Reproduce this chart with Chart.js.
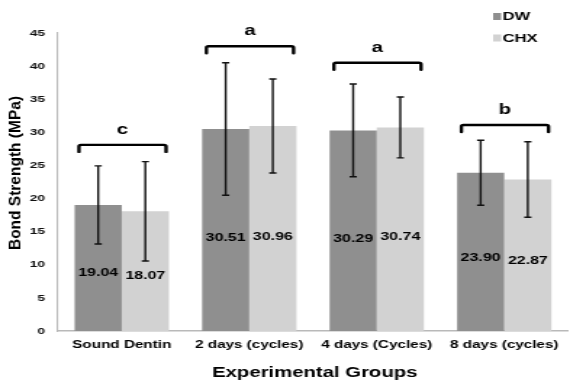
<!DOCTYPE html>
<html>
<head>
<meta charset="utf-8">
<script src="https://cdn.jsdelivr.net/npm/chart.js@4.4.1/dist/chart.umd.min.js"></script>
<style>
  html, body { margin: 0; padding: 0; background: #ffffff; overflow: hidden; }
  #outer { width: 570px; height: 384px; position: relative; overflow: hidden; }
  /* the reference figure is horizontally stretched; reproduce that stretch */
  #wrap { width: 393px; height: 384px; transform: scaleX(1.4504); transform-origin: 0 0; }
</style>
</head>
<body>
<div id="outer"><div id="wrap"><canvas id="c" width="393" height="384"></canvas></div></div>
<script>
// ---- data ----
const categories = ['Sound Dentin', '2 days (cycles)', '4 days (Cycles)', '8 days (cycles)'];
const seriesNames = ['DW', 'CHX'];
const dwMeans = [19.04, 30.51, 30.29, 23.90];
const chxMeans = [18.07, 30.96, 30.74, 22.87];
const dwSD = [5.9, 10.0, 7.0, 4.9];
const chxSD = [7.5, 7.1, 4.6, 5.7];
const groupLetters = ['c', 'a', 'a', 'b'];
const bracketLevels = [28.1, 43.0, 40.5, 31.1];
const yAxisTitle = 'Bond Strength (MPa)';
const xAxisTitle = 'Experimental Groups';

const STRETCH = 1.4504;
const FONT = '"Liberation Sans", Arial, Helvetica, sans-serif';
const colors = ['#8f8f8f', '#d2d2d2'];

const annotate = {
  id: 'annotate',
  afterDatasetsDraw(chart) {
    const ctx = chart.ctx;
    const y = chart.scales.y;
    const sds = [dwSD, chxSD];
    const means = [dwMeans, chxMeans];
    ctx.save();
    // error bars
    ctx.strokeStyle = '#111';
    ctx.lineWidth = 1.4;
    for (let d = 0; d < 2; d++) {
      const meta = chart.getDatasetMeta(d);
      meta.data.forEach((bar, i) => {
        const top = y.getPixelForValue(means[d][i] + sds[d][i]);
        const bot = y.getPixelForValue(means[d][i] - sds[d][i]);
        const x = bar.x;
        ctx.beginPath();
        ctx.moveTo(x, top); ctx.lineTo(x, bot);
        ctx.moveTo(x - 2.5, top); ctx.lineTo(x + 2.5, top);
        ctx.moveTo(x - 2.5, bot); ctx.lineTo(x + 2.5, bot);
        ctx.stroke();
      });
    }
    // value labels inside bars
    ctx.fillStyle = '#000';
    ctx.font = 'bold 11px ' + FONT;
    ctx.textAlign = 'center';
    ctx.textBaseline = 'middle';
    for (let d = 0; d < 2; d++) {
      const meta = chart.getDatasetMeta(d);
      meta.data.forEach((bar, i) => {
        const v = means[d][i];
        ctx.fillText(v.toFixed(2), bar.x, y.getPixelForValue(v * 0.46));
      });
    }
    // brackets with group letters
    const m0 = chart.getDatasetMeta(0), m1 = chart.getDatasetMeta(1);
    ctx.lineWidth = 2.4;
    ctx.lineJoin = 'round';
    ctx.lineCap = 'round';
    ctx.strokeStyle = '#000';
    categories.forEach((c, i) => {
      const b0 = m0.data[i], b1 = m1.data[i];
      const left = b0.x - b0.width / 2 + 3;
      const right = b1.x + b1.width / 2 - 2;
      const by = y.getPixelForValue(bracketLevels[i]);
      ctx.beginPath();
      ctx.moveTo(left, by + 7);
      ctx.lineTo(left, by + 1.5);
      ctx.quadraticCurveTo(left, by, left + 1.5, by);
      ctx.lineTo(right - 1.5, by);
      ctx.quadraticCurveTo(right, by, right, by + 1.5);
      ctx.lineTo(right, by + 7);
      ctx.stroke();
      ctx.font = 'bold 14px ' + FONT;
      ctx.textBaseline = 'alphabetic';
      ctx.fillText(groupLetters[i], (left + right) / 2, by - 11);
    });
    ctx.restore();
  },
  afterDraw(chart) {
    const ctx = chart.ctx;
    const area = chart.chartArea;
    ctx.save();
    ctx.fillStyle = '#000';
    // y axis title (drawn without the horizontal stretch)
    ctx.font = 'bold 15.5px ' + FONT;
    ctx.textAlign = 'center';
    ctx.textBaseline = 'middle';
    ctx.translate(11.5, (area.top + area.bottom) / 2 - 9);
    ctx.scale(1 / STRETCH, 1);
    ctx.rotate(-Math.PI / 2);
    ctx.fillText(yAxisTitle, 0, 0);
    ctx.setTransform(1, 0, 0, 1, 0, 0);
    // x axis title
    ctx.font = 'bold 14px ' + FONT;
    ctx.textAlign = 'center';
    ctx.textBaseline = 'alphabetic';
    ctx.fillText(xAxisTitle, 217, 377);
    // legend
    ctx.font = 'bold 11.5px ' + FONT;
    ctx.textAlign = 'left';
    ctx.textBaseline = 'middle';
    seriesNames.forEach((name, k) => {
      const ly = 16.5 + k * 21.5;
      ctx.fillStyle = colors[k];
      ctx.fillRect(340, ly - 3.5, 5.5, 7);
      ctx.fillStyle = '#000';
      ctx.fillText(name, 346.5, ly + 0.5);
    });
    ctx.restore();
  }
};

new Chart(document.getElementById('c'), {
  type: 'bar',
  data: {
    labels: categories,
    datasets: [
      { label: seriesNames[0], data: dwMeans, backgroundColor: colors[0], borderWidth: 0, categoryPercentage: 0.74, barPercentage: 1.0 },
      { label: seriesNames[1], data: chxMeans, backgroundColor: colors[1], borderWidth: 0, categoryPercentage: 0.74, barPercentage: 1.0 }
    ]
  },
  options: {
    responsive: false,
    animation: false,
    devicePixelRatio: 1,
    layout: { padding: { top: 33, right: 0, bottom: 0, left: 0 } },
    plugins: { legend: { display: false }, tooltip: { enabled: false } },
    scales: {
      x: {
        grid: { display: false, drawTicks: false },
        border: { display: true, color: '#b9b9b9', width: 1.5 },
        ticks: { color: '#000', font: { family: FONT, size: 10.5, weight: 'bold' }, padding: 8, maxRotation: 0, autoSkip: false },
        afterFit(scale) { scale.height = 53; }
      },
      y: {
        min: 0, max: 45,
        grid: { display: false, drawTicks: false },
        border: { display: true, color: '#b9b9b9', width: 1.1 },
        ticks: { stepSize: 5, color: '#111', font: { family: FONT, size: 9.5, weight: 'bold' }, padding: 9 },
        afterFit(scale) { scale.width = 40; }
      }
    }
  },
  plugins: [annotate]
});
</script>
</body>
</html>
